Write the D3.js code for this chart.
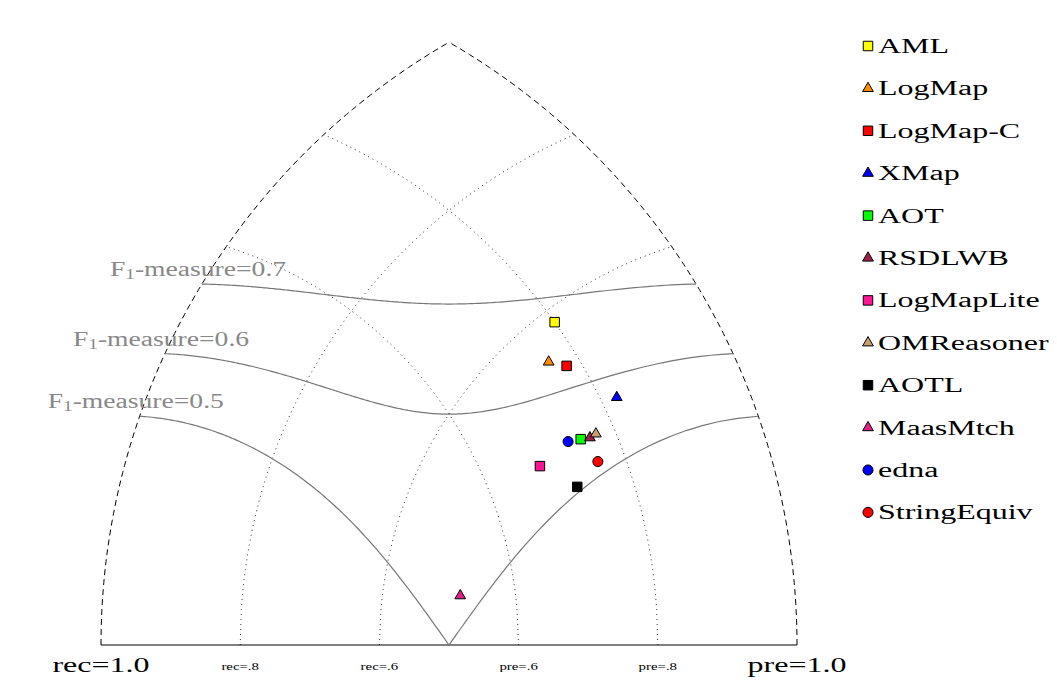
<!DOCTYPE html><html><head><meta charset="utf-8">
<script src="https://cdn.jsdelivr.net/npm/d3@7"></script>
<style>body{margin:0;background:#fff}text{font-family:"Liberation Serif","DejaVu Serif",serif}</style>
</head><body><svg id="c" width="1057" height="700"></svg>
<script>
const systems=["AML","LogMap","LogMap-C","XMap","AOT","RSDLWB","LogMapLite","OMReasoner","AOTL","MaasMtch","edna","StringEquiv"];
const precision=[0.80,0.761,0.780,0.822,0.750,0.763,0.681,0.773,0.721,0.521,0.732,0.761];
const recall=[0.58,0.541,0.520,0.440,0.429,0.421,0.450,0.419,0.389,0.489,0.440,0.389];
const shapes=["square","triangle","square","triangle","square","triangle","square","triangle","square","triangle","circle","circle"];
const colors=["#ffff00","#ff8c00","#ff0000","#0000ff","#00ff00","#a0204a","#ff1493","#c8a070","#000000","#e0208a","#0000ff","#ff0000"];
const fValues=[0.5,0.6,0.7];
const recTicks=[{v:0.8,label:"rec=.8"},{v:0.6,label:"rec=.6"}];
const preTicks=[{v:0.6,label:"pre=.6"},{v:0.8,label:"pre=.8"}];

const svg=d3.select("#c");
const x0=101,x1=797,by=645,L=x1-x0;
const sx=d3.scaleLinear().domain([0,1]).range([x0,x1]);
const sy=d3.scaleLinear().domain([0,1]).range([by,by-L]);
function pos(p,r){const u=(p*p-r*r+1)/2;const v=Math.sqrt(Math.max(0,p*p-u*u));return [sx(u),sy(v)];}
const line=d3.line();
function arcR(r){const pts=[];const pmin=1-r;for(let i=0;i<=100;i++){pts.push(pos(pmin+(1-pmin)*i/100,r));}return pts;}
function arcP(p){const pts=[];const rmin=1-p;for(let i=0;i<=100;i++){pts.push(pos(p,rmin+(1-rmin)*i/100));}return pts;}
function wtext(x,y,size,k,anchor){return svg.append("text").attr("transform",`translate(${x},${y}) scale(${k},1)`).attr("font-size",size).attr("text-anchor",anchor||"start");}
svg.append("path").attr("d",line(arcR(1))).attr("fill","none").attr("stroke","#000").attr("stroke-dasharray","6,4");
svg.append("path").attr("d",line(arcP(1))).attr("fill","none").attr("stroke","#000").attr("stroke-dasharray","6,4");
svg.append("line").attr("x1",x0).attr("x2",x1).attr("y1",by).attr("y2",by).attr("stroke","#000");
[0.6,0.8].forEach(v=>{
 svg.append("path").attr("d",line(arcR(v))).attr("fill","none").attr("stroke","#000").attr("stroke-width",0.8).attr("stroke-dasharray","1,4");
 svg.append("path").attr("d",line(arcP(v))).attr("fill","none").attr("stroke","#000").attr("stroke-width",0.8).attr("stroke-dasharray","1,4");
});
fValues.forEach(F=>{
 const pts=[];const rmin=F/(2-F);
 for(let i=0;i<=200;i++){const r=rmin+(1-rmin)*i/200;const p=F*r/(2*r-F);if(p<=1.0001)pts.push(pos(Math.min(p,1),r));}
 svg.append("path").attr("d",line(pts)).attr("fill","none").attr("stroke","#777").attr("stroke-width",1.2);
 const e=pos(F/(2-F),1);
 const t=wtext(e[0]-92,e[1]-8,20,1.38).attr("fill","#888");
 t.append("tspan").text("F");t.append("tspan").attr("font-size",14).attr("dy",3).text("1");
 t.append("tspan").attr("dy",-3).text("-measure="+F);
});
wtext(x0,672,20,1.6,"middle").text("rec=1.0");
wtext(x1,672,20,1.6,"middle").text("pre=1.0");
recTicks.forEach(t=>wtext(sx(1-t.v),670,11,1.35,"middle").text(t.label));
preTicks.forEach(t=>wtext(sx(t.v),670,11,1.35,"middle").text(t.label));
function marker(shape,color,x,y){
 const sym=shape==="square"?d3.symbolSquare:shape==="triangle"?d3.symbolTriangle:d3.symbolCircle;
 const size=shape==="square"?90:shape==="triangle"?50:80;
 svg.append("path").attr("d",d3.symbol().type(sym).size(size)()).attr("transform",`translate(${x},${y})`).attr("fill",color).attr("stroke","#000").attr("stroke-width",1);
}
systems.forEach((s,i)=>{const [x,y]=pos(precision[i],recall[i]);marker(shapes[i],colors[i],x,y);});
systems.forEach((s,i)=>{const y=46+i*42.4;marker(shapes[i],colors[i],868,y);
 wtext(878,y+7,20,1.6).text(s);});
</script></body></html>
